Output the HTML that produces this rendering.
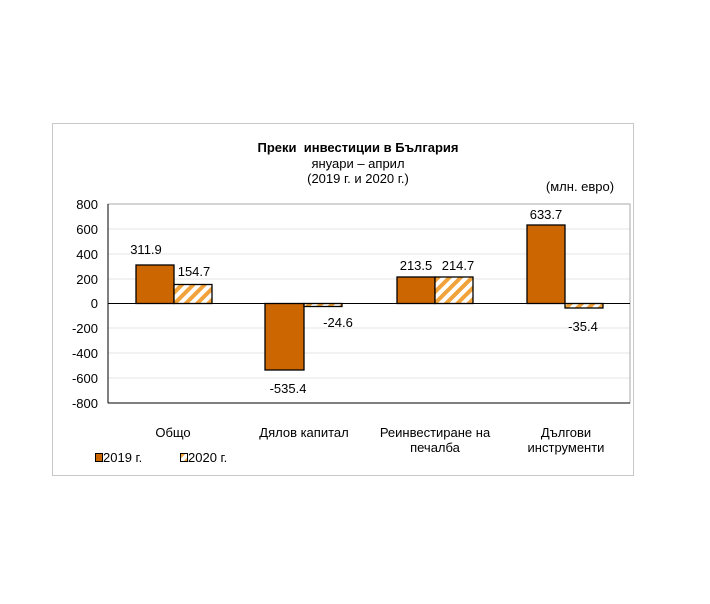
<!DOCTYPE html>
<html><head><meta charset="utf-8"><style>
body{margin:0;background:#fff;}
text{font-family:"Liberation Sans",Arial,sans-serif;fill:#000;}
</style></head><body>
<svg width="710" height="599" xmlns="http://www.w3.org/2000/svg">
<defs>
<pattern id="h" patternUnits="userSpaceOnUse" width="8" height="8" patternTransform="rotate(45)">
<rect width="8" height="8" fill="#fff"/><rect width="4" height="8" fill="#f2a23a"/>
</pattern>
</defs>
<rect x="52.5" y="123.5" width="581" height="352" fill="#fff" stroke="#c8c8c8"/>
<g stroke="#e6e6e6" stroke-width="1">
<line x1="108" y1="229" x2="630" y2="229"/>
<line x1="108" y1="254" x2="630" y2="254"/><line x1="108" y1="279" x2="630" y2="279"/>
<line x1="108" y1="328" x2="630" y2="328"/><line x1="108" y1="353" x2="630" y2="353"/>
<line x1="108" y1="378" x2="630" y2="378"/>
</g>
<rect x="108" y="204" width="522" height="199" fill="none" stroke="#aaa"/>
<line x1="108" y1="204" x2="108" y2="403" stroke="#000"/>
<line x1="108" y1="403" x2="630" y2="403" stroke="#000"/>
<g font-size="13" text-anchor="end">
<text x="98" y="209">800</text><text x="98" y="234">600</text><text x="98" y="259">400</text>
<text x="98" y="284">200</text><text x="98" y="308">0</text><text x="98" y="333">-200</text>
<text x="98" y="358">-400</text><text x="98" y="383">-600</text><text x="98" y="408">-800</text>
</g>
<g stroke="#000" stroke-width="1.3">
<rect x="136" y="265" width="38" height="38.5" fill="#cc6600"/>
<rect x="174" y="284.5" width="38" height="19" fill="url(#h)"/>
<rect x="265" y="303.5" width="39" height="66.5" fill="#cc6600"/>
<rect x="304" y="303.5" width="38" height="3" fill="url(#h)"/>
<rect x="397" y="277" width="38" height="26.5" fill="#cc6600"/>
<rect x="435" y="277" width="38" height="26.5" fill="url(#h)"/>
<rect x="527" y="225" width="38" height="78.5" fill="#cc6600"/>
<rect x="565" y="303.5" width="38" height="4.5" fill="url(#h)"/>
</g>
<line x1="108" y1="303.5" x2="630" y2="303.5" stroke="#000"/>
<g font-size="13" text-anchor="middle">
<text x="146" y="254">311.9</text><text x="194" y="276">154.7</text>
<text x="288" y="393">-535.4</text><text x="338" y="327">-24.6</text>
<text x="416" y="270">213.5</text><text x="458" y="270">214.7</text>
<text x="546" y="219">633.7</text><text x="583" y="331">-35.4</text>
<text x="173" y="437">Общо</text><text x="304" y="437">Дялов капитал</text>
<text x="435" y="437">Реинвестиране на</text><text x="435" y="452">печалба</text>
<text x="566" y="437">Дългови</text><text x="566" y="452">инструменти</text>
<text x="358" y="152" font-weight="bold">Преки&#160; инвестиции в България</text>
<text x="358" y="168">януари – април</text>
<text x="358" y="183">(2019 г. и 2020 г.)</text>
<text x="580" y="191">(млн. евро)</text>
</g>
<rect x="95.5" y="453.5" width="7" height="8" fill="#cc6600" stroke="#000"/>
<text x="103" y="462" font-size="13">2019 г.</text>
<rect x="180.5" y="453.5" width="7" height="8" fill="url(#h)" stroke="#000"/>
<text x="188" y="462" font-size="13">2020 г.</text>
</svg>
</body></html>
